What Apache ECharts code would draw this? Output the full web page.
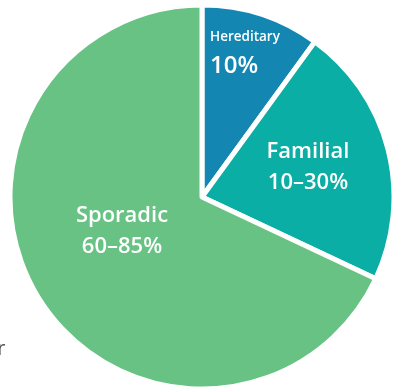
<!DOCTYPE html>
<html>
<head>
<meta charset="utf-8">
<style>
  html, body { margin: 0; padding: 0; background: #ffffff; }
  #chart { width: 394px; height: 391px; }
</style>
<script src="https://cdn.jsdelivr.net/npm/echarts@6/dist/echarts.min.js"></script>
</head>
<body>
<div id="chart"></div>
<script>
// Share of cases by type
const categories = ['Hereditary', 'Familial', 'Sporadic'];
const shares = [10, 22, 68];
const shareLabels = ['10%', '10–30%', '60–85%'];
const sliceColors = ['#1387b2', '#0aaea4', '#67c283'];

// Label anchor points (px) for each slice
const labelAnchors = [
  { x: 210, y: 52, align: 'left', nameSize: 13.5, valSize: 24, lh: 29 },
  { x: 308, y: 167, align: 'center', nameSize: 22, valSize: 22, lh: 31 },
  { x: 122, y: 231, align: 'center', nameSize: 22, valSize: 22, lh: 31 }
];

const chart = echarts.init(document.getElementById('chart'), null, { renderer: 'canvas' });

const data = categories.map((name, i) => ({
  name: name,
  value: shares[i],
  itemStyle: { color: sliceColors[i] },
  label: {
    formatter: '{n|' + name + '}\n{v|' + shareLabels[i] + '}',
    rich: {
      n: { fontSize: labelAnchors[i].nameSize, fontWeight: 600, color: '#fff',
           fontFamily: 'Open Sans', lineHeight: labelAnchors[i].lh },
      v: { fontSize: labelAnchors[i].valSize, fontWeight: 600, color: '#fff',
           fontFamily: 'Open Sans', lineHeight: labelAnchors[i].lh }
    }
  }
}));

chart.setOption({
  animation: false,
  backgroundColor: '#ffffff',
  series: [{
    type: 'pie',
    center: [202, 197],
    radius: [0, 192],
    startAngle: 90,
    clockwise: true,
    silent: true,
    itemStyle: { borderColor: '#ffffff', borderWidth: 5 },
    label: { show: true, position: 'inside' },
    labelLine: { show: false },
    labelLayout: function (params) {
      const a = labelAnchors[params.dataIndex];
      return { x: a.x, y: a.y, align: a.align, verticalAlign: 'middle' };
    },
    data: data
  }],
  graphic: [{
    type: 'text',
    left: -14,
    top: 339,
    style: { text: 'er', fontSize: 20, fill: '#555555', fontFamily: 'Open Sans' }
  }]
});
</script>
</body>
</html>
